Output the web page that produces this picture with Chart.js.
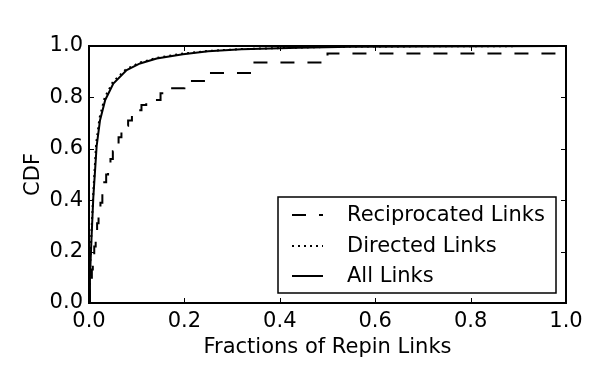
<!DOCTYPE html>
<html>
<head>
<meta charset="utf-8">
<script src="https://cdn.jsdelivr.net/npm/chart.js@4"></script>
<style>
    html, body { margin: 0; padding: 0; background: #fff; }
    #wrap { width: 598px; height: 370px; }
</style>
</head>
<body>
<div id="wrap"><canvas id="cdf-chart" width="598" height="370"></canvas></div>
<script>
// values
const seriesNames = ['Reciprocated Links', 'Directed Links', 'All Links'];

// reciprocated is a step CDF: the value jumps at each x and holds to the next one
const recipX = [0, 0.002, 0.004, 0.006, 0.008, 0.011, 0.014, 0.017, 0.02, 0.024, 0.028, 0.032, 0.036, 0.04, 0.045, 0.05, 0.056, 0.062, 0.068, 0.075, 0.082, 0.09, 0.1, 0.11, 0.12, 0.15, 0.165, 0.2, 0.25, 0.34, 0.5, 1.0];
const recipY = [0, 0.05, 0.09, 0.13, 0.17, 0.22, 0.27, 0.31, 0.35, 0.39, 0.43, 0.47, 0.5, 0.53, 0.56, 0.59, 0.62, 0.645, 0.67, 0.69, 0.71, 0.73, 0.75, 0.77, 0.79, 0.816, 0.836, 0.864, 0.895, 0.936, 0.971, 1.0];

const directedX = [0, 0.002, 0.005, 0.009, 0.015, 0.022, 0.033, 0.05, 0.078, 0.106, 0.14, 0.195, 0.25, 0.32, 0.44, 0.55, 1.0];
const directedY = [0, 0.12, 0.27, 0.43, 0.62, 0.72, 0.8, 0.86, 0.91, 0.935, 0.953, 0.97, 0.981, 0.988, 0.994, 0.998, 1.0];

const allX = [0, 0.002, 0.005, 0.009, 0.016, 0.023, 0.034, 0.051, 0.079, 0.107, 0.142, 0.197, 0.25, 0.32, 0.44, 0.55, 1.0];
const allY = [0, 0.1, 0.24, 0.41, 0.61, 0.71, 0.79, 0.854, 0.906, 0.932, 0.951, 0.968, 0.98, 0.987, 0.993, 0.997, 1.0];

const xTicks = [0, 0.2, 0.4, 0.6, 0.8, 1.0];
const yTicks = [0, 0.2, 0.4, 0.6, 0.8, 1.0];

const FONT = 'DejaVu Sans';
const FONT_SIZE = 21;
const dashes = [[14, 13], [2, 4], []];

const toPoints = (xs, ys) => xs.map((x, i) => ({ x: x, y: ys[i] }));

// frame with inward ticks on every side, matplotlib style
const framePlugin = {
    id: 'frame',
    afterDatasetsDraw(chart) {
        const { ctx, chartArea: a, scales } = chart;
        ctx.save();
        ctx.strokeStyle = '#000';
        ctx.lineWidth = 1;
        const len = 5;
        xTicks.forEach((t) => {
            const px = Math.round(scales.x.getPixelForValue(t)) + 0.5;
            ctx.beginPath();
            ctx.moveTo(px, a.bottom); ctx.lineTo(px, a.bottom - len);
            ctx.moveTo(px, a.top); ctx.lineTo(px, a.top + len);
            ctx.stroke();
        });
        yTicks.forEach((t) => {
            const py = Math.round(scales.y.getPixelForValue(t)) + 0.5;
            ctx.beginPath();
            ctx.moveTo(a.left, py); ctx.lineTo(a.left + len, py);
            ctx.moveTo(a.right, py); ctx.lineTo(a.right - len, py);
            ctx.stroke();
        });
        ctx.lineWidth = 2;
        ctx.strokeRect(a.left, a.top, a.right - a.left, a.bottom - a.top);
        ctx.restore();
    }
};

// legend box in the lower right corner
const legendPlugin = {
    id: 'boxLegend',
    afterDraw(chart) {
        const { ctx } = chart;
        const box = { x: 278, y: 197, w: 278, h: 96 };
        ctx.save();
        ctx.fillStyle = '#fff';
        ctx.fillRect(box.x, box.y, box.w, box.h);
        ctx.strokeStyle = '#000';
        ctx.lineWidth = 1.5;
        ctx.strokeRect(box.x, box.y, box.w, box.h);
        const rows = [215, 246, 276];
        seriesNames.forEach((name, i) => {
            ctx.setLineDash(dashes[i]);
            ctx.lineWidth = 2;
            ctx.beginPath();
            ctx.moveTo(292, rows[i]);
            ctx.lineTo(323, rows[i]);
            ctx.stroke();
            ctx.setLineDash([]);
            ctx.fillStyle = '#000';
            ctx.font = FONT_SIZE + 'px "' + FONT + '"';
            ctx.textBaseline = 'middle';
            ctx.fillText(name, 347, rows[i] + 1);
        });
        ctx.restore();
    }
};

new Chart(document.getElementById('cdf-chart'), {
    type: 'line',
    data: {
        datasets: [
            {
                label: seriesNames[0],
                data: toPoints(recipX, recipY),
                borderColor: '#000',
                borderWidth: 2,
                borderDash: dashes[0],
                pointRadius: 0,
                stepped: 'before',
            },
            {
                label: seriesNames[1],
                data: toPoints(directedX, directedY),
                borderColor: '#000',
                borderWidth: 2,
                borderDash: dashes[1],
                pointRadius: 0,
                tension: 0,
            },
            {
                label: seriesNames[2],
                data: toPoints(allX, allY),
                borderColor: '#000',
                borderWidth: 2,
                pointRadius: 0,
                tension: 0,
            },
        ],
    },
    options: {
        responsive: false,
        animation: false,
        events: [],
        layout: {
            padding: { left: 0, right: 32, top: 46, bottom: 0 }
        },
        plugins: {
            legend: { display: false },
            tooltip: { enabled: false },
        },
        scales: {
            x: {
                type: 'linear',
                min: 0,
                max: 1,
                afterBuildTicks: (scale) => { scale.ticks = xTicks.map(v => ({ value: v })); },
                afterFit: (scale) => { scale.height = 67; },
                grid: { display: false, drawTicks: false },
                border: { display: false },
                ticks: {
                    color: '#000',
                    padding: 6,
                    font: { family: FONT, size: FONT_SIZE },
                    callback: v => v.toFixed(1),
                    maxRotation: 0,
                },
                title: {
                    display: true,
                    text: 'Fractions of Repin Links',
                    color: '#000',
                    font: { family: FONT, size: FONT_SIZE },
                    padding: { top: 0, bottom: 10 },
                },
            },
            y: {
                type: 'linear',
                min: 0,
                max: 1,
                afterBuildTicks: (scale) => { scale.ticks = yTicks.map(v => ({ value: v })); },
                afterFit: (scale) => { scale.width = 89; },
                grid: { display: false, drawTicks: false },
                border: { display: false },
                ticks: {
                    color: '#000',
                    padding: 6,
                    font: { family: FONT, size: FONT_SIZE },
                    callback: v => v.toFixed(1),
                },
                title: {
                    display: true,
                    text: 'CDF',
                    color: '#000',
                    font: { family: FONT, size: FONT_SIZE },
                    padding: { top: 21, bottom: 0 },
                },
            },
        },
    },
    plugins: [framePlugin, legendPlugin],
});
</script>
</body>
</html>
